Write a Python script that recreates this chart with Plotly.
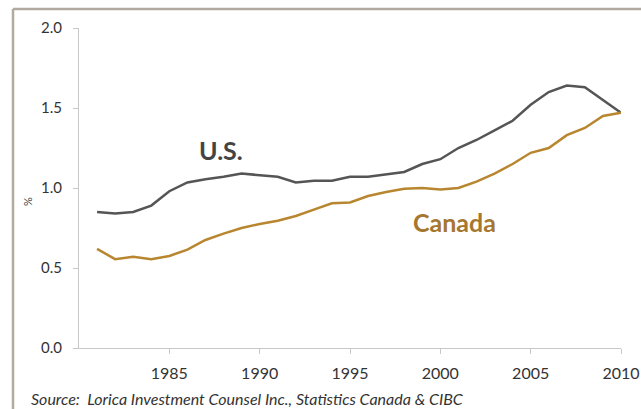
import plotly.graph_objects as go

years = list(range(1981, 2011))

us_share = [0.85, 0.84, 0.85, 0.89, 0.98, 1.035, 1.055, 1.07, 1.09, 1.08,
            1.07, 1.035, 1.045, 1.045, 1.07, 1.07, 1.085, 1.10, 1.15, 1.18,
            1.25, 1.30, 1.36, 1.42, 1.52, 1.60, 1.64, 1.63, 1.55, 1.47]

canada_share = [0.62, 0.555, 0.57, 0.555, 0.575, 0.615, 0.675, 0.715, 0.75, 0.775,
                0.795, 0.825, 0.865, 0.905, 0.91, 0.95, 0.975, 0.995, 1.0, 0.99,
                1.0, 1.04, 1.09, 1.15, 1.22, 1.25, 1.33, 1.375, 1.45, 1.47]

y_ticks = [0.0, 0.5, 1.0, 1.5, 2.0]
y_tick_text = ["0.0", "0.5", "1.0", "1.5", "2.0"]
x_ticks = [1985, 1990, 1995, 2000, 2005, 2010]

US_COLOR = "#555555"
CA_LINE = "#b8862e"
CA_TEXT = "#a5772f"
FRAME = "#b0aaa1"
FONT = "Lato"

fig = go.Figure()
fig.add_trace(go.Scatter(x=years, y=us_share, mode="lines", name="U.S.",
                         line=dict(color=US_COLOR, width=2.5)))
fig.add_trace(go.Scatter(x=years, y=canada_share, mode="lines", name="Canada",
                         line=dict(color=CA_LINE, width=2.5)))

W, H = 641, 409
L, R, T, B = 79, 20, 28, 61
pw, ph = W - L - R, H - T - B

def px(x):
    return (x - L) / pw

def py(y):
    return (H - B - y) / ph

fig.update_layout(
    width=W, height=H,
    margin=dict(l=L, r=R, t=T, b=B),
    paper_bgcolor="white", plot_bgcolor="white",
    showlegend=False,
    font=dict(family=FONT, color="#333333"),
    xaxis=dict(range=[1980, 2010], tickvals=x_ticks, showgrid=False, zeroline=False,
               automargin=False,
               showline=True, linecolor="#c8c8c8", linewidth=1,
               ticks="outside", ticklen=5, tickcolor="#c8c8c8",
               ticklabelstandoff=6,
               tickfont=dict(size=16, color="#333333")),
    yaxis=dict(range=[0, 2.0], tickvals=y_ticks, ticktext=y_tick_text,
               showgrid=False, zeroline=False, automargin=False,
               showline=True, linecolor="#c8c8c8", linewidth=1,
               ticks="outside", ticklen=5, tickcolor="#c8c8c8",
               ticklabelstandoff=8,
               tickfont=dict(size=15, color="#333333")),
)

# outer frame: only its left and top edges fall on the page
fig.add_shape(type="line", xref="paper", yref="paper",
              x0=px(13), x1=px(13), y0=py(420), y1=py(9),
              line=dict(color=FRAME, width=2.5), layer="above")
fig.add_shape(type="line", xref="paper", yref="paper",
              x0=px(13), x1=px(660), y0=py(9), y1=py(9),
              line=dict(color=FRAME, width=2.5), layer="above")

fig.add_annotation(xref="paper", yref="paper", x=px(221), y=py(150),
                   xanchor="center", yanchor="middle",
                   text="<b>U.S.</b>", showarrow=False,
                   font=dict(family=FONT, size=25, color="#444444"))
fig.add_annotation(xref="paper", yref="paper", x=px(454), y=py(222),
                   xanchor="center", yanchor="middle",
                   text="<b>Canada</b>", showarrow=False,
                   font=dict(family=FONT, size=25, color=CA_TEXT))
fig.add_annotation(xref="paper", yref="paper", x=px(27), y=py(202),
                   xanchor="center", yanchor="middle",
                   text="%", textangle=-90, showarrow=False,
                   font=dict(family=FONT, size=11, color="#444444"))
fig.add_annotation(xref="paper", yref="paper", x=px(29), y=py(398),
                   xanchor="left", yanchor="middle",
                   text="<i>Source:  Lorica Investment Counsel Inc., Statistics Canada &amp; CIBC</i>",
                   showarrow=False,
                   font=dict(family=FONT, size=16, color="#333333"))

# keep the page itself from showing scrollbars
page_js = ("document.documentElement.style.overflow='hidden';"
           "document.body.style.overflow='hidden';"
           "document.body.style.margin='0';")

fig.write_html("out.html", post_script=page_js)
